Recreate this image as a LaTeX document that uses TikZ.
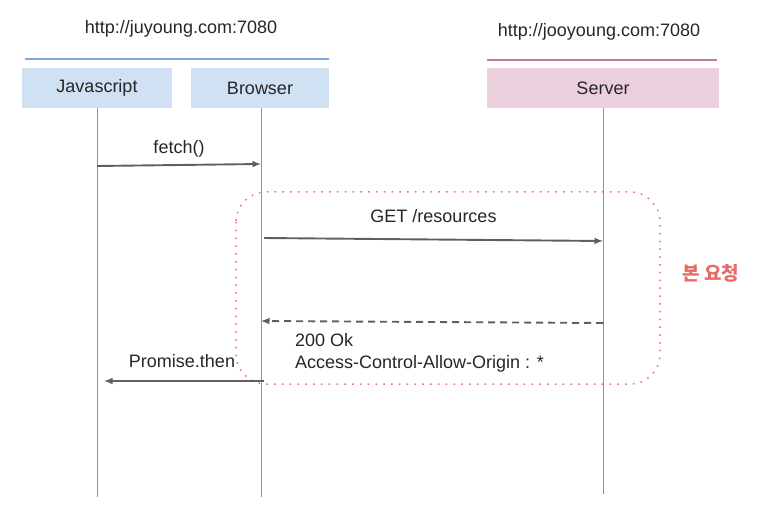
\documentclass[tikz,border=0pt]{standalone}
\usepackage{fontspec}
\setmainfont{Liberation Sans}
\newfontfamily\krfont{Noto Sans CJK KR}
\usetikzlibrary{arrows,positioning}
\definecolor{boxBlue}{HTML}{CFE1F2}
\definecolor{lineBlue}{HTML}{7EA6E0}
\definecolor{boxPink}{HTML}{EAD0DC}
\definecolor{linePink}{HTML}{C2799F}
\definecolor{msgGray}{HTML}{5F5F5F}
\definecolor{noteRed}{HTML}{EA6B66}
\tikzset{
  actor/.style={minimum height=40, inner sep=0, text=black!85},
  lifeline/.style={draw=gray!85, line width=0.9},
  msg/.style={->, >=latex, line width=1.9, draw=msgGray},
  reply/.style={msg, dashed, dash pattern=on 7 off 5},
  label/.style={text=black!85, inner sep=1}
}
\begin{document}
\begin{tikzpicture}[x=1pt, y=-1pt, font=\fontsize{18}{22}\selectfont]
  \useasboundingbox (0,0) rectangle (763,505);
  \node [label] (urlA) at (181,29) {http://juyoung.com:7080};
  \node [label] (urlB) at (599,32) {http://jooyoung.com:7080};
  \draw [lineBlue, line width=2.5] (25,59) -- (329,59);
  \draw [linePink, line width=2.5] (487,60) -- (717,60);
  \node [actor, fill=boxBlue, minimum width=150] (js) at (97,88) {Javascript};
  \node [actor, fill=boxBlue, minimum width=138] (browser) at (260,88) {Browser};
  \node [actor, fill=boxPink, minimum width=232] (server) at (603,88) {Server};
  \coordinate (jsEnd) at (97,497);
  \coordinate (browserEnd) at (261,497);
  \coordinate (serverEnd) at (603,494);
  \draw [lifeline] (js.south) -- (jsEnd);
  \draw [lifeline] (261,108) -- (browserEnd);
  \draw [lifeline] (server.south) -- (serverEnd);
  \draw [noteRed, line width=1.5, dash pattern=on 1.5 off 6.3, rounded corners=30] (236,192) rectangle (660,384);
  \node [text=noteRed, font=\krfont\bfseries\fontsize{19}{22}\selectfont] (main) at (711,273) {본 요청};
  \coordinate (fetchA) at (97,166);
  \coordinate (fetchB) at (261,164);
  \draw [msg] (fetchA) -- node [label, yshift=16pt] (fetchLbl) {fetch()} (fetchB);
  \coordinate (getA) at (264,238);
  \coordinate (getB) at (603,241);
  \draw [msg] (getA) -- node [label, yshift=23.5pt] (getLbl) {GET /resources} (getB);
  \coordinate (okA) at (603,323);
  \coordinate (okB) at (261,321);
  \draw [reply] (okA) -- (okB);
  \node [label, align=left, anchor=north west] (okLbl) at (294,332) {200 Ok\\Access-Control-Allow-Origin : *};
  \coordinate (thenA) at (264,381);
  \coordinate (thenB) at (104,381);
  \draw [msg] (thenA) -- node [label, yshift=20pt, xshift=-2pt] (thenLbl) {Promise.then} (thenB);
\end{tikzpicture}
\end{document}
